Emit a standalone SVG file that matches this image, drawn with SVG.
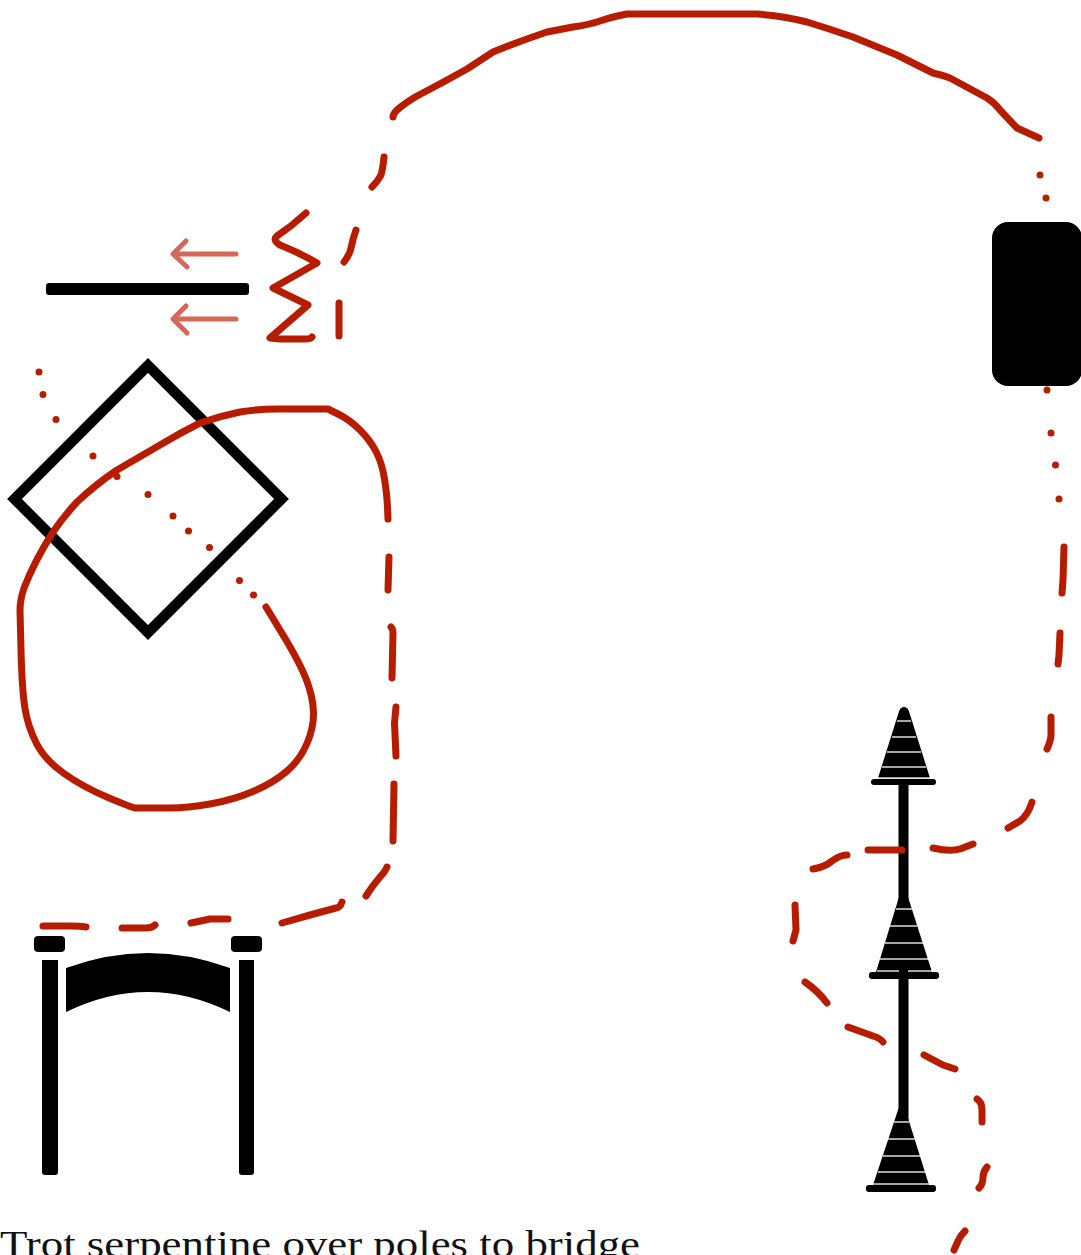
<svg xmlns="http://www.w3.org/2000/svg" width="1081" height="1255" viewBox="0 0 1081 1255">
<style>
.r{fill:none;stroke:#b81c00;stroke-width:7;stroke-linecap:round;stroke-linejoin:round}
.d{fill:#b81c00}
.k{fill:#000}
.a{fill:none;stroke:#d4695a;stroke-width:5;stroke-linecap:round;stroke-linejoin:round}
.w{stroke:#ddd;stroke-width:1.6;fill:none}
text{font-family:"Liberation Serif",serif;font-size:37px;fill:#111}
</style>
<rect width="1081" height="1255" fill="#fff"/>
<g id="pole"><rect class="k" x="46" y="283" width="203" height="12" rx="3"/></g>
<g id="arrows">
<path class="a" d="M236 254H174M186 241L173 254L187 267"/>
<path class="a" d="M236 319H174M186 306L173 319L187 333"/>
</g>
<g id="diamond"><path d="M148 365.5L281.5 499L148 632.5L14.5 499Z" fill="none" stroke="#000" stroke-width="10.5"/></g>
<g id="block"><rect class="k" x="992" y="222" width="90" height="164" rx="16"/></g>
<g id="cones">
<rect class="k" x="898.500" y="782" width="10" height="125"/>
<rect class="k" x="898.500" y="975" width="10" height="150"/>
<path class="k" d="M904 707C901 707 899.500 709 898.500 713L878 778H930L909.500 713C908.500 709 907 707 904 707Z"/>
<rect class="k" x="871" y="779" width="65" height="6" rx="3"/>
<path class="k" d="M899 897L876 972H932L908 897Z"/>
<rect class="k" x="869" y="972" width="70" height="7" rx="3"/>
<path class="k" d="M899 1107L873 1185H929L908 1118V1107Z"/>
<rect class="k" x="866" y="1185" width="70" height="7" rx="3"/>
<path class="w" d="M897 721H911M892 737H916M887 752H921M882 767H926M878 778H930M896 909H912M890 926H917M885 943H923M880 959H928M877 971H899M908 971H932M893 1122H909M888 1139H915M883 1156H920M878 1172H925M873 1184H929"/>
</g>
<g id="gate">
<path class="k" d="M42 960H58V1172Q58 1175 55 1175H45Q42 1175 42 1172Z"/>
<path class="k" d="M239 960H254V1172Q254 1175 251 1175H242Q239 1175 239 1172Z"/>
<rect class="k" x="34" y="936" width="31" height="16" rx="4"/>
<rect class="k" x="231" y="936" width="31" height="16" rx="4"/>
<path class="k" d="M66 968Q148 938 230 968V1012Q148 972 66 1012Z"/>
</g>
<g id="connectors">
<path class="r" d="M393 117Q393 114 397 110Q405 103 417 96Q442 83 467 69L493 52Q520 41 547 32L573 27Q588 25 600 21Q615 16 627 14H757Q785 16 807 22Q830 29 853 37L897 55L933 73Q942 75 950 78L987 98Q995 103 1000 110L1017 128L1039 138"/>
<path class="r" d="M384 157Q383 168 381 175Q378 181 372 187"/>
<path class="r" d="M356 230Q353 238 351 248Q350 254 344 262"/>
<path class="r" d="M339 303V336"/>
<path class="r" d="M306 213Q292 226 277 236Q272 240 280 245Q300 253 317 263L273 288L308 305L270 338L280 339H305Q311 339 312 337"/>
<path class="r" d="M266 607L283 635Q300 663 306.500 680Q313 697 313.500 712Q314 727 307 743.500Q300 760 286.500 771.500Q273 783 253 791.500Q233 800 210 804Q187 808 170 808L135 808Q133 808 108 797.500Q83 787 64 773.500Q45 760 36.500 743.500Q28 727 25 708.500Q22 690 21 650L20 610Q20 600 24 588Q35 560 53 532Q64 516 77 502Q95 485 117 470L160 445Q180 433 200 423Q220 416 240 412Q258 409 277 409L328 409L339 414.500Q350 420 360 430Q370 440 376 451.500Q382 463 384.500 479Q387 495 387.500 507L388 519"/>
<path class="r" d="M389 557L388 590M391 627Q393 629 393 633L392 678M396 707L394.500 723L396 756M394 784L393 841"/>
<path class="r" d="M387 867Q385 872 380 877Q373 885 366 896"/>
<path class="r" d="M342 902Q340 908 336 908L310 915L282 923"/>
<path class="r" d="M228 919H210L191 923M155 925Q152 928 146 928H122M86 927Q80 926 70 926H43"/>
<path class="r" d="M1064 547L1063 580L1062 593M1060 633L1059 655L1058 664M1051 717V735Q1051 740 1047 749"/>
<path class="r" d="M1032 802Q1028 815 1020 821L1008 828M973 844L960 849Q950 852 933 848M902 850H868M847 855Q840 855 832 861Q825 867 813 869"/>
<path class="r" d="M795 905L796 930L793 941M805 982Q818 991 827 1003M848 1027L873 1036Q880 1038 883 1042M924 1055L943 1065L955 1069"/>
<path class="r" d="M977 1099Q982 1102 982 1110V1122M987 1167Q983 1172 983 1177Q983 1184 979 1188M965 1231Q960 1236 958 1241L954 1250"/>
<g class="d">
<circle cx="1040" cy="175" r="3.500"/><circle cx="1046" cy="198" r="3.500"/>
<circle cx="1047" cy="390" r="3.500"/><circle cx="1051" cy="433" r="3.500"/><circle cx="1055.500" cy="465" r="3.500"/><circle cx="1059" cy="499" r="3.500"/>
<circle cx="39" cy="372" r="3.500"/><circle cx="43" cy="394.500" r="3.500"/><circle cx="56" cy="419.500" r="3.500"/><circle cx="93" cy="456" r="3.500"/><circle cx="117" cy="476.500" r="3.500"/><circle cx="148" cy="494.500" r="3.500"/><circle cx="173" cy="516" r="3.500"/><circle cx="188.500" cy="531" r="3.500"/><circle cx="209.500" cy="547.500" r="3.500"/><circle cx="239.500" cy="580.500" r="3.500"/><circle cx="253.500" cy="595" r="3.500"/>
</g>
</g>
<text x="0" y="1257" textLength="640" lengthAdjust="spacingAndGlyphs">Trot serpentine over poles to bridge</text>
</svg>
